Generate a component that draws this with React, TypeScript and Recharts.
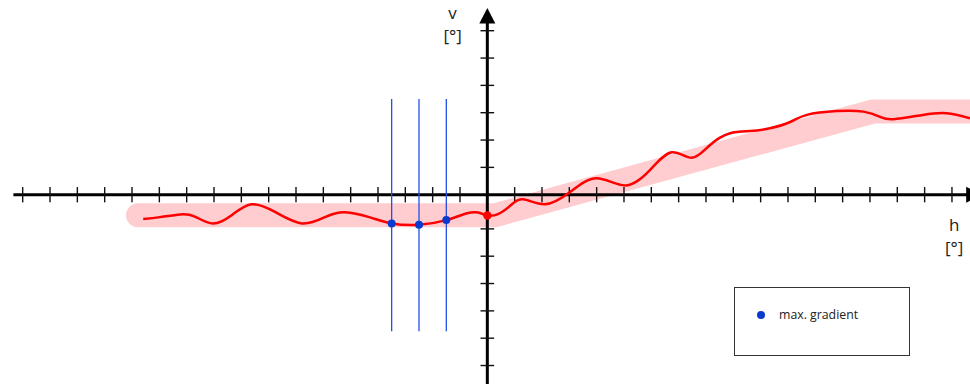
import React from 'react';
import { ComposedChart, Line, Scatter, XAxis, YAxis, ReferenceLine, ReferenceDot, Legend } from 'recharts';

// measured curve, h in degrees, v in degrees
const curveH = [-12.59, -11.98, -11.24, -10.7, -10.04, -9.34, -8.62, -7.77, -6.78, -5.94, -5.21, -4.29, -3.5, -2.5, -1.5, -0.78, -0.34, 0, 0.39, 0.83, 1.31, 2.11, 3.03, 4.0, 5.04, 5.95, 6.75, 7.48, 8.15, 8.88, 9.61, 10.34, 11.08, 11.69, 12.78, 13.76, 14.37, 14.86, 15.94, 16.81, 17.66];
const curveV = [-0.89, -0.82, -0.72, -0.8, -1.05, -0.74, -0.35, -0.63, -1.05, -0.82, -0.64, -0.83, -1.05, -1.1, -0.93, -0.69, -0.65, -0.76, -0.71, -0.41, -0.17, -0.35, 0.1, 0.6, 0.34, 0.9, 1.55, 1.35, 1.82, 2.25, 2.33, 2.43, 2.66, 2.92, 3.06, 3.04, 2.85, 2.76, 2.92, 2.98, 2.8];

// idealised characteristic (pink band)
const bandH = [-12.78, 0.28, 14.1, 18.5];
const bandV = [-0.75, -0.75, 3.04, 3.04];

const gradientH = [-3.5, -2.5, -1.5];
const gradientV = [-1.05, -1.1, -0.93];
const originH = [0];
const originV = [-0.76];

const hTicks = [-17, -16, -15, -14, -13, -12, -11, -10, -9, -8, -7, -6, -5, -4, -3, -2, -1, 1, 2, 3, 4, 5, 6, 7, 8, 9, 10, 11, 12, 13, 14, 15, 16, 17];
const vTicks = [6, 5, 4, 3, 2, 1, -1.25, -2.25, -3.25, -4.25, -5.25, -6.25];

const curveData = curveH.map((h, i) => ({ h, v: curveV[i] }));
const bandData = bandH.map((h, i) => ({ h, v: bandV[i] }));
const gradientData = gradientH.map((h, i) => ({ h, v: gradientV[i] }));
const originData = originH.map((h, i) => ({ h, v: originV[i] }));

const FONT = '"Open Sans", sans-serif';

const dot = (color: string, r: number) => (p: any) => <circle cx={p.cx} cy={p.cy} r={r} fill={color} />;

const axisText = (txt: string) => (p: any) => (
  <text x={p.cx} y={p.cy} textAnchor="middle" fontFamily={FONT} fontSize={17} fill="#222">{txt}</text>
);

const LegendBox = () => (
  <div style={{ boxSizing: 'border-box', width: 176, height: 69, border: '1px solid #333', background: '#fff', position: 'relative', fontFamily: FONT, fontSize: 12.3, color: '#222' }}>
    <span style={{ position: 'absolute', left: 22, top: 23, width: 8, height: 8, borderRadius: 4, background: '#0a3ad0' }} />
    <span style={{ position: 'absolute', left: 44, top: 18, whiteSpace: 'nowrap' }}>max. gradient</span>
  </div>
);

export default function App() {
  return (
    <div style={{ position: 'absolute', left: 0, top: 0 }}>
      <ComposedChart width={970} height={384} margin={{ top: 0, right: 0, bottom: 0, left: 0 }}>
        <XAxis type="number" dataKey="h" domain={[-17.83, 17.66]} allowDataOverflow hide />
        <YAxis type="number" dataKey="v" domain={[-6.926, 7.124]} allowDataOverflow hide />

        <Line data={bandData} dataKey="v" type="linear" stroke="#ffcdcf" strokeWidth={24} strokeLinecap="round" dot={false} activeDot={false} isAnimationActive={false} />

        {/* axes */}
        <ReferenceLine segment={[{ x: -17.34, y: 0 }, { x: 17.66, y: 0 }]} stroke="#000" strokeWidth={3} />
        <ReferenceLine segment={[{ x: 0, y: -6.926 }, { x: 0, y: 6.3 }]} stroke="#000" strokeWidth={3} />
        {hTicks.map((t) => (
          <ReferenceLine key={'h' + t} segment={[{ x: t, y: -0.28 }, { x: t, y: 0.28 }]} stroke="#111" strokeWidth={1.4} />
        ))}
        {vTicks.map((t) => (
          <ReferenceLine key={'v' + t} segment={[{ x: -0.25, y: t }, { x: 0.25, y: t }]} stroke="#111" strokeWidth={1.4} />
        ))}
        <ReferenceDot x={0} y={6.83} shape={(p: any) => <polygon points={`${p.cx},${p.cy} ${p.cx - 8},${p.cy + 15.5} ${p.cx + 8},${p.cy + 15.5}`} fill="#000" />} />
        <ReferenceDot x={17.52} y={0} shape={(p: any) => <polygon points={`${p.cx + 15.5},${p.cy} ${p.cx},${p.cy - 8} ${p.cx},${p.cy + 8}`} fill="#000" />} />

        {/* max. gradient markers */}
        {gradientH.map((g) => (
          <ReferenceLine key={'g' + g} segment={[{ x: g, y: 3.5 }, { x: g, y: -5 }]} stroke="#2150e0" strokeWidth={1.3} />
        ))}

        <Line data={curveData} dataKey="v" type="natural" stroke="#ff0000" strokeWidth={2.5} dot={false} activeDot={false} isAnimationActive={false} />
        <Scatter data={gradientData} dataKey="v" shape={dot('#0a3ad0', 4)} isAnimationActive={false} />
        <Scatter data={originData} dataKey="v" shape={dot('#ff0000', 4.2)} isAnimationActive={false} />

        <ReferenceDot x={-1.27} y={6.43} shape={axisText('v')} />
        <ReferenceDot x={-1.27} y={5.6} shape={axisText('[°]')} />
        <ReferenceDot x={17.08} y={-1.33} shape={axisText('h')} />
        <ReferenceDot x={17.08} y={-2.17} shape={axisText('[°]')} />

        <Legend layout="horizontal" verticalAlign="middle" align="center" wrapperStyle={{ left: 734, top: 287, width: 176, height: 69 }} content={() => <LegendBox />} />
      </ComposedChart>
    </div>
  );
}
